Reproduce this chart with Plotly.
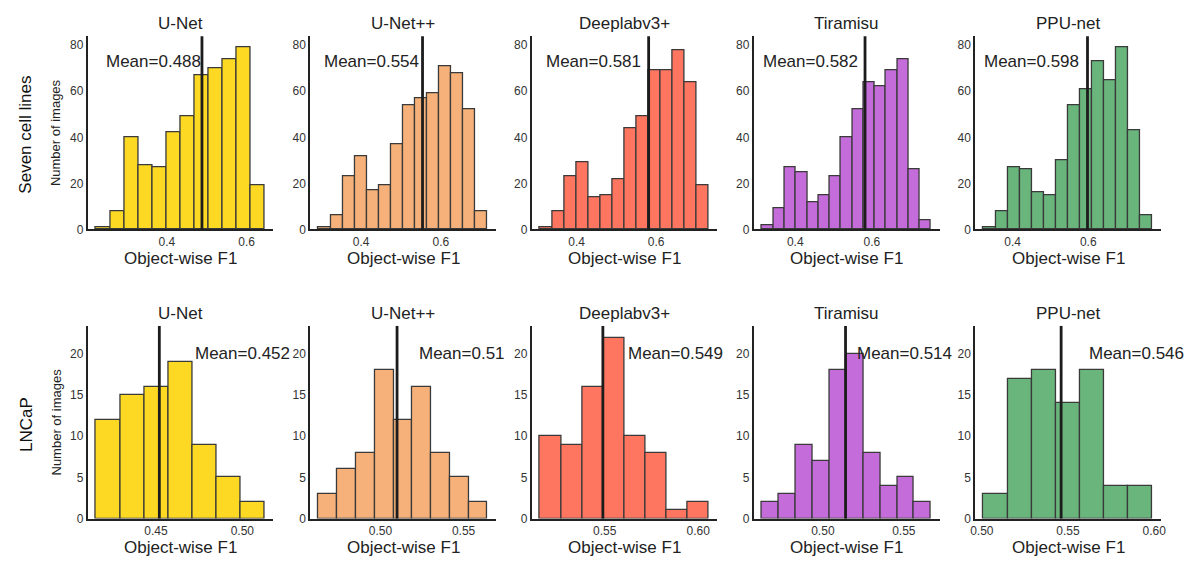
import plotly.graph_objects as go

# ---- data -----------------------------------------------------------------
models = ["U-Net", "U-Net++", "Deeplabv3+", "Tiramisu", "PPU-net"]
row_labels = ["Seven cell lines", "LNCaP"]
colors = ["#FDD924", "#F5B179", "#FE7560", "#C46CD9", "#69B57C"]

# Seven cell lines: histogram counts per model
seven_unet = [1, 8, 40, 28, 27, 42, 49, 67, 70, 74, 79, 19]
seven_unetpp = [1, 6, 23, 32, 17, 19, 37, 54, 57, 59, 71, 68, 52, 8]
seven_deeplab = [1, 8, 23, 29, 14, 15, 22, 44, 49, 69, 69, 78, 64, 19]
seven_tiramisu = [2, 9, 27, 25, 12, 15, 23, 40, 52, 64, 62, 69, 74, 26, 4]
seven_ppunet = [1, 8, 27, 26, 16, 15, 30, 54, 61, 73, 65, 79, 43, 6]
# first / last bin edge of every histogram
seven_bin_lo = [0.2225, 0.2935, 0.3080, 0.3135, 0.3229]
seven_bin_hi = [0.6460, 0.7168, 0.7325, 0.7543, 0.7700]
seven_means = [0.488, 0.554, 0.581, 0.582, 0.598]

# LNCaP: histogram counts per model
lncap_unet = [12, 15, 16, 19, 9, 5, 2]
lncap_unetpp = [3, 6, 8, 18, 12, 16, 8, 5, 2]
lncap_deeplab = [10, 9, 16, 22, 10, 8, 1, 2]
lncap_tiramisu = [2, 3, 9, 7, 18, 20, 8, 4, 5, 2]
lncap_ppunet = [3, 17, 18, 14, 18, 4, 4]
lncap_bin_lo = [0.4154, 0.4628, 0.5154, 0.4625, 0.5010]
lncap_bin_hi = [0.5131, 0.5644, 0.6057, 0.5668, 0.5990]
lncap_means = [0.452, 0.51, 0.549, 0.514, 0.546]

rows = [
    dict(counts=[seven_unet, seven_unetpp, seven_deeplab, seven_tiramisu, seven_ppunet],
         lo=seven_bin_lo, hi=seven_bin_hi, means=seven_means,
         xticks=[0.4, 0.6], xfmt=".1f", yticks=[0, 20, 40, 60, 80], yrange=[0, 83.9],
         mean_text_x=[0.089, 0.062, 0.066, 0.041, 0.036], mean_text_y=73),
    dict(counts=[lncap_unet, lncap_unetpp, lncap_deeplab, lncap_tiramisu, lncap_ppunet],
         lo=lncap_bin_lo, hi=lncap_bin_hi, means=lncap_means,
         xticks=[0.45, 0.50, 0.55, 0.60], xfmt=".2f", yticks=[0, 5, 10, 15, 20], yrange=[0, 23.4],
         mean_text_x=[0.566, 0.576, 0.507, 0.543, 0.601], mean_text_y=20),
]

# ---- layout geometry (pixels) ----------------------------------------------
W, H = 1194, 569
FONT = "Liberation Sans, Arial, Helvetica, sans-serif"
col_left = [83.3, 307.7, 531.0, 755.0, 978.3]
ax_w = 187.4
row_top = [36.7, 330.0]
row_bot = [232.3, 525.0]

fig = go.Figure()
annotations = []
shapes = []

k = 0
for r, row in enumerate(rows):
    for c in range(5):
        k += 1
        xa = "x" if k == 1 else f"x{k}"
        ya = "y" if k == 1 else f"y{k}"
        xkey = "xaxis" if k == 1 else f"xaxis{k}"
        ykey = "yaxis" if k == 1 else f"yaxis{k}"

        counts = row["counts"][c]
        lo, hi = row["lo"][c], row["hi"][c]
        n = len(counts)
        w = (hi - lo) / n
        centers = [lo + (i + 0.5) * w for i in range(n)]
        pad = 0.05 * (hi - lo)

        fig.add_trace(go.Bar(
            x=centers, y=counts, width=w, xaxis=xa, yaxis=ya,
            marker=dict(color=colors[c], line=dict(color="#3a3a3a", width=1.3)),
            showlegend=False, hoverinfo="skip",
        ))

        x0 = col_left[c] / W
        x1 = (col_left[c] + ax_w) / W
        y0 = 1 - row_bot[r] / H
        y1 = 1 - row_top[r] / H

        fig.layout[xkey] = dict(
            domain=[x0, x1], anchor=ya, range=[lo - pad, hi + pad],
            tickvals=row["xticks"], tickformat=row["xfmt"],
            showgrid=False, zeroline=False, showline=True,
            linecolor="#222222", linewidth=1.6, ticks="",
            tickfont=dict(family=FONT, size=12, color="#333333"),
        )
        fig.layout[ykey] = dict(
            domain=[y0, y1], anchor=xa, range=row["yrange"],
            tickvals=row["yticks"],
            showgrid=False, zeroline=False, showline=True,
            linecolor="#222222", linewidth=1.6, ticks="",
            tickfont=dict(family=FONT, size=12, color="#333333"),
        )

        # mean marker
        m = row["means"][c]
        shapes.append(dict(
            type="line", xref=xa, yref=f"{ya} domain",
            x0=m, x1=m, y0=0, y1=1,
            line=dict(color="#1c1c1c", width=2.8), layer="above",
        ))
        annotations.append(dict(
            text=f"Mean={m}", xref=f"{xa} domain", yref=ya,
            x=row["mean_text_x"][c], y=row["mean_text_y"],
            xanchor="left", yanchor="middle", showarrow=False,
            font=dict(family=FONT, size=17, color="#222222"),
        ))

        # panel title
        annotations.append(dict(
            text=models[c], xref="paper", yref="paper",
            x=(col_left[c] + ax_w / 2) / W, y=1 - (row_top[r] - 12.5) / H,
            xanchor="center", yanchor="middle", showarrow=False,
            font=dict(family=FONT, size=17, color="#222222"),
        ))
        # x axis title
        annotations.append(dict(
            text="Object-wise F1", xref="paper", yref="paper",
            x=(col_left[c] + ax_w / 2) / W, y=1 - (row_bot[r] + 29.4) / H,
            xanchor="center", yanchor="middle", showarrow=False,
            font=dict(family=FONT, size=17, color="#222222"),
        ))

    # y axis title (first column only) and row label
    mid = (row_top[r] + row_bot[r]) / 2
    annotations.append(dict(
        text="Number of images", xref="paper", yref="paper",
        x=51.7 / W, y=1 - mid / H, textangle=-90,
        xanchor="center", yanchor="middle", showarrow=False,
        font=dict(family=FONT, size=13, color="#222222"),
    ))
    annotations.append(dict(
        text=row_labels[r], xref="paper", yref="paper",
        x=21 / W, y=1 - (mid + 2) / H, textangle=-90,
        xanchor="center", yanchor="middle", showarrow=False,
        font=dict(family=FONT, size=17, color="#111111"),
    ))

fig.update_layout(
    width=W, height=H,
    margin=dict(l=0, r=0, t=0, b=0),
    paper_bgcolor="white", plot_bgcolor="white",
    annotations=annotations, shapes=shapes,
    bargap=0, showlegend=False,
)

fig.write_html("out.html")
